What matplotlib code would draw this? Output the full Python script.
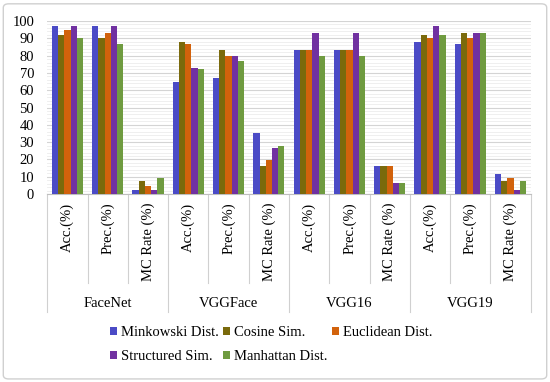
import numpy as np
import matplotlib
matplotlib.use("Agg")
import matplotlib.pyplot as plt
from matplotlib.patches import FancyBboxPatch

plt.rcParams['font.family'] = ['Liberation Serif', 'DejaVu Serif']

# data
models = ["FaceNet", "VGGFace", "VGG16", "VGG19"]
metrics = ["Acc.(%)", "Prec.(%)", "MC Rate (%)"]
series = ["Minkowski Dist.", "Cosine Sim.", "Euclidean Dist.",
          "Structured Sim.", "Manhattan Dist."]
colors = ["#4B4BC6", "#7A6A0C", "#D2620C", "#7131A1", "#6F9B40"]

minkowski = [97, 97, 2.5, 65, 67, 35, 83, 83, 16.5, 88, 87, 11.5]
cosine = [92, 90, 7.5, 88, 83, 16.5, 83, 83, 16.5, 92, 93, 7.5]
euclidean = [95, 93, 4.5, 87, 80, 19.5, 83, 83, 16.5, 90, 90, 9.5]
structured = [97, 97, 2.5, 73, 80, 26.5, 93, 93, 6.5, 97, 93, 2.5]
manhattan = [90, 87, 9.5, 72, 77, 28, 80, 80, 6.5, 92, 93, 7.5]
values = [minkowski, cosine, euclidean, structured, manhattan]

fig = plt.figure(figsize=(5.5, 3.82), dpi=100)
ax = fig.add_axes([0.086, 0.492, 0.879, 0.453])

n = len(models) * len(metrics)
x = np.arange(n)
w = 0.155
handles = []
for i, (name, vals, c) in enumerate(zip(series, values, colors)):
    h = ax.bar(x + (i - 2) * w, vals, w, color=c, label=name, zorder=3)
    handles.append(h)

ax.set_xlim(-0.5, n - 0.5)
ax.set_ylim(0, 100)
ax.set_yticks(range(0, 101, 10))
ax.set_yticks(range(0, 101, 2), minor=True)
ax.grid(axis='y', which='major', color='#d4d4d4', lw=0.8, zorder=0)
ax.grid(axis='y', which='minor', color='#ececec', lw=0.6, zorder=0)
ax.tick_params(axis='y', which='both', length=0, labelsize=10.5, pad=9.5)

ax.set_xticks(x)
ax.set_xticklabels(metrics * len(models), rotation=90, fontsize=10.5)
ax.tick_params(axis='x', length=0, pad=6)

for s in ['top', 'right', 'left']:
    ax.spines[s].set_visible(False)
ax.spines['bottom'].set_color('#bfbfbf')

# category separators below the axis
tr = ax.get_xaxis_transform()
for b in range(n + 1):
    low = -0.68 if b % 3 == 0 else -0.514
    ax.plot([b - 0.5, b - 0.5], [0, low], transform=tr, color='#d0d0d0',
            lw=0.8, clip_on=False)
for k, m in enumerate(models):
    ax.text(3 * k + 1, -0.63, m, transform=tr, ha='center', va='center',
            fontsize=10.5)

# row-wise legend order
order = [0, 3, 1, 4, 2]
fig.legend([handles[i] for i in order], [series[i] for i in order],
           loc='center left', bbox_to_anchor=(0.176, 0.097), ncol=3,
           frameon=False, fontsize=10.5, handlelength=0.5, handleheight=0.5,
           handletextpad=0.25, columnspacing=0.3, labelspacing=0.75)

fig.patches.append(FancyBboxPatch((0.006, 0.008), 0.988, 0.982,
                                  boxstyle="round,pad=0,rounding_size=0.01",
                                  transform=fig.transFigure, fill=False,
                                  edgecolor='#d0d0d0', lw=1))

fig.savefig("out.png", dpi=100)
